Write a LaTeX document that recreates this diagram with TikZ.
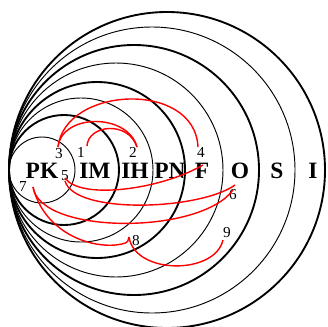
\documentclass[tikz,border=0pt]{standalone}
\usepackage{fontspec}
\setmainfont{Liberation Serif}
\begin{document}
\begin{tikzpicture}[x=0.03cm,y=-0.03cm,
  thin ring/.style={draw=black,line width=0.8pt},
  thick ring/.style={draw=black,line width=1.6pt},
  lab/.style={font=\fontsize{20}{20}\selectfont\bfseries,anchor=base,inner sep=0pt},
  num/.style={font=\fontsize{13}{13}\selectfont,inner sep=0pt},
  link/.style={draw=red,line width=1.2pt}]
\useasboundingbox (0,0) rectangle (327,327);
% rings, all tangent at (9,170)
\foreach \r/\s in {158/thick ring,143/thin ring,125/thick ring,107/thin ring,88/thick ring,72/thin ring,55/thick ring,33/thin ring}
  \draw[\s] (9+\r,170) circle[radius=\r];
% labels
\node[lab] (PK) at (42,178) {PK};
\node[lab] (IM) at (95,178) {IM};
\node[lab] (IH) at (135,178) {IH};
\node[lab] (PN) at (170,178) {PN};
\node[lab] (F) at (202,178) {F};
\node[lab] (O) at (240,178) {O};
\node[lab] (S) at (277,178) {S};
\node[lab] (I) at (313,178) {I};
% numbers
\node[num] (n1) at (81,152) {1};
\node[num] (n2) at (133,152) {2};
\node[num] (n3) at (59,154) {3};
\node[num] (n4) at (201,152) {4};
\node[num] (n5) at (65,176) {5};
\node[num] (n6) at (233,195) {6};
\node[num] (n7) at (23,187) {7};
\node[num] (n8) at (136,241) {8};
\node[num] (n9) at (227,233) {9};
% curve end points
\coordinate (c1) at (87,146);
\coordinate (c2) at (137,147);
\coordinate (c3) at (58,147);
\coordinate (c4) at (198,147);
\coordinate (cF) at (203,165);
\coordinate (c5a) at (65,178);
\coordinate (c5b) at (65,181);
\coordinate (cO) at (235,185);
\coordinate (c7) at (33,187);
\coordinate (c6) at (233,190);
\coordinate (c8) at (129,237);
\coordinate (c9) at (223,240);
% links
\draw[link] (c1) .. controls (88,125) and (128,120) .. (c2);
\draw[link] (c3) .. controls (62,113) and (128,113) .. (c2);
\draw[link] (c3) .. controls (65,86) and (195,80) .. (c4);
\draw[link] (cF) .. controls (160,190) and (80,200) .. (c5a);
\draw[link] (c5b) .. controls (75,215) and (200,210) .. (cO);
\draw[link] (c7) .. controls (40,235) and (200,235) .. (c6);
\draw[link] (c7) .. controls (45,235) and (95,250) .. (122,244) .. controls (128,243) and (129,240) .. (c8);
\draw[link] (c8) .. controls (135,275) and (215,275) .. (c9);
\end{tikzpicture}
\end{document}
